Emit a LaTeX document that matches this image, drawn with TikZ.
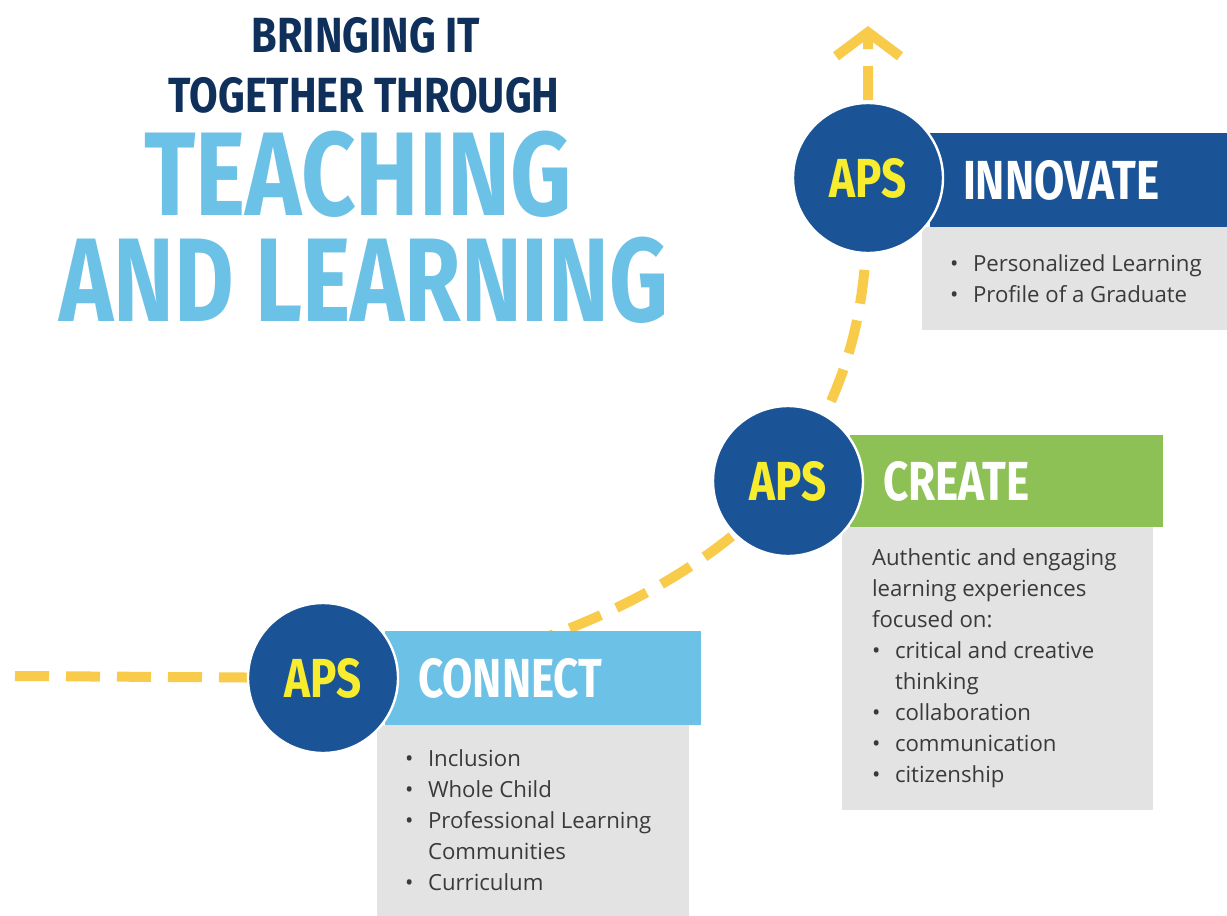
\documentclass[tikz,border=0pt]{standalone}
\usepackage{fontspec}
\setmainfont{Open Sans}
\newfontfamily\headfont[FakeStretch=0.8]{Fira Sans}
\usetikzlibrary{arrows.meta,backgrounds}

\definecolor{apsnavy}{HTML}{10305C}
\definecolor{apssky}{HTML}{6CC1E6}
\definecolor{apsblue}{HTML}{1B5496}
\definecolor{apsgreen}{HTML}{8DC155}
\definecolor{apsyellow}{HTML}{F7EC2D}
\definecolor{apsgold}{HTML}{F8CB4B}
\definecolor{apsgrey}{HTML}{E3E3E3}
\definecolor{apstext}{HTML}{3A3A3A}

\newcommand{\bul}{\makebox[11.5pt][l]{\textbullet}}

\tikzset{
  apscircle/.style={circle,fill=apsblue,draw=white,line width=1.2pt,minimum size=75pt,inner sep=0pt,
    text=apsyellow,font=\headfont\bfseries\fontsize{27.5}{30}\selectfont},
  bar/.style={rectangle,minimum height=47pt,inner sep=0pt},
  head/.style={anchor=west,inner sep=0pt,text=white,font=\headfont\bfseries\fontsize{27.5}{30}\selectfont},
  smalltitle/.style={text=apsnavy,font=\headfont\bfseries\addfontfeatures{FakeStretch=0.84}\fontsize{24.7}{26}\selectfont},
  bigtitle/.style={inner sep=0pt,text=apssky,font=\headfont\bfseries\fontsize{59.5}{62}\selectfont},
  greybox/.style={rectangle,fill=apsgrey,inner sep=0pt},
  bodytext/.style={anchor=west,inner sep=0pt,align=left,text=apstext,font=\fontsize{11.1}{15.5}\selectfont},
  trail/.style={draw=apsgold,line width=5pt,dash pattern=on 17pt off 8.5pt,
    -{Straight Barb[length=12pt,width=32pt]}}
}

\begin{document}
\begin{tikzpicture}[x=0.5pt,y=-0.5pt]
  \useasboundingbox (0,0) rectangle (1227,916);
  % title
  \node[smalltitle] (bring) at (366,35) {BRINGING IT};
  \node[smalltitle] (together) at (364,95) {TOGETHER THROUGH};
  \node[bigtitle] (teaching) at (358,174) {TEACHING};
  \node[bigtitle,font=\headfont\bfseries\addfontfeatures{FakeStretch=0.77}\fontsize{59.5}{62}\selectfont]
    (learning) at (364,280) {AND LEARNING};

  % connect
  \node[bar,fill=apssky,minimum width=158pt] (connectbar) at (543,678) {};
  \node[head] (connecthead) at ([xshift=16.5pt]connectbar.west) {CONNECT};
  \node[greybox,minimum width=156pt,minimum height=95.5pt] (connectbox) at (533,820.5) {};
  \node[bodytext] (connectlist) at ([xshift=14pt]connectbox.west)
    {\bul Inclusion\\ \bul Whole Child\\ \bul Professional Learning\\ \hspace*{11.5pt}Communities\\ \bul Curriculum};
  \node[apscircle] (connect) at (323,678) {APS};

  % create
  \node[bar,fill=apsgreen,minimum width=156.5pt,minimum height=46pt] (createbar) at (1006.5,481) {};
  \node[head] (createhead) at ([xshift=16.5pt]createbar.west) {CREATE};
  \node[greybox,minimum width=155.5pt,minimum height=141.5pt] (createbox) at (997.5,668.5) {};
  \node[bodytext] (createlist) at ([xshift=15pt]createbox.west)
    {Authentic and engaging\\ learning experiences\\ focused on:\\ \bul critical and creative\\ \hspace*{11.5pt}thinking\\
     \bul collaboration\\ \bul communication\\ \bul citizenship};
  \node[apscircle] (create) at (788,481) {APS};

  % innovate
  \node[bar,fill=apsblue,minimum width=148.5pt] (innovatebar) at (1078.5,180) {};
  \node[head] (innovatehead) at ([xshift=16.5pt]innovatebar.west) {INNOVATE};
  \node[greybox,minimum width=152.5pt,minimum height=51.5pt] (innovatebox) at (1074.5,278.5) {};
  \node[bodytext] (innovatelist) at ([xshift=14pt]innovatebox.west)
    {\bul Personalized Learning\\ \bul Profile of a Graduate};
  \node[apscircle] (innovate) at (868,178) {APS};

  % dashed path behind everything
  \coordinate (trailstart) at (15,676);
  \coordinate (trailend) at (868,26);
  \begin{scope}[on background layer]
    \fill[white] (0,0) rectangle (1227,916);
    \draw[trail] (trailstart) -- (connect.center)
      .. controls (500,678) and (700,590) .. (create.center)
      .. controls (857,371) and (868,300) .. (innovate.center) -- (trailend);
  \end{scope}
\end{tikzpicture}
\end{document}
